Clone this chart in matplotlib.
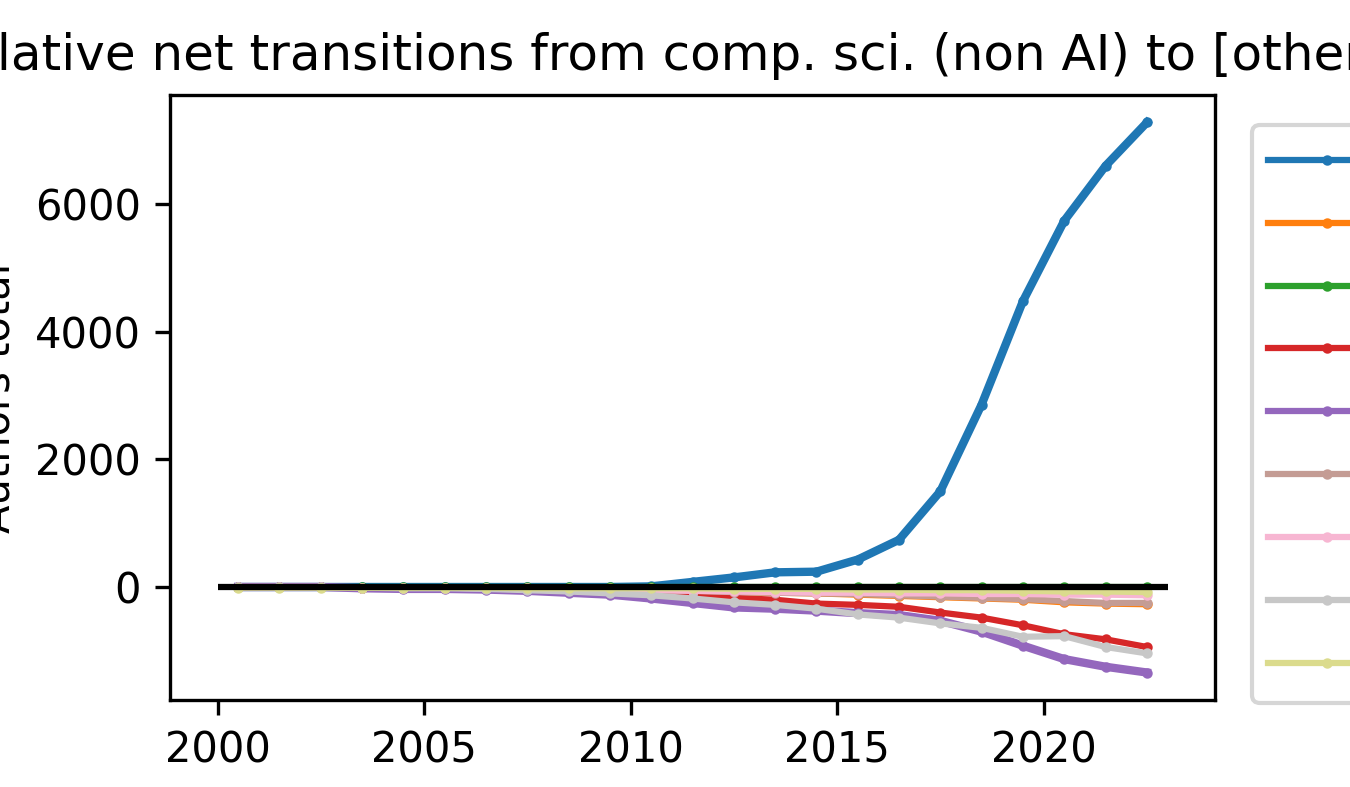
import matplotlib
matplotlib.use("Agg")
import matplotlib.pyplot as plt
import numpy as np

years = np.arange(2000.5, 2023.0, 1.0)

fields = ["AI", "Physics", "Mathematics", "Engineering", "Biology",
          "Economics", "Medicine", "Chemistry", "Other"]
colors = ["#1f77b4", "#ff7f0e", "#2ca02c", "#d62728", "#9467bd",
          "#c49c94", "#f7b6d2", "#c7c7c7", "#dbdb8d"]

ai = [0, 0, 0, 0, 0, 0, 0, 0, 0, 0, 10, 80, 150, 230, 240, 430, 740, 1500, 2860, 4480, 5740, 6600, 7280]
physics = [0, 0, 0, -10, -10, -10, -20, -20, -30, -40, -50, -60, -80, -90, -100, -120, -140, -160, -180, -200, -240, -260, -270]
maths = [0, 0, 0, 0, 0, 0, 0, 0, 0, 0, 0, 0, 0, 0, 0, 0, 0, 0, 0, 0, 0, 0, 0]
engineering = [0, 0, 0, -10, -20, -20, -30, -50, -70, -90, -110, -130, -170, -200, -260, -280, -310, -400, -480, -600, -740, -820, -940]
biology = [0, 0, 0, -20, -30, -30, -40, -60, -90, -120, -180, -250, -320, -340, -370, -410, -440, -530, -700, -920, -1130, -1250, -1340]
economics = [0, 0, 0, -10, -10, -10, -20, -20, -30, -40, -50, -60, -80, -90, -100, -110, -130, -150, -170, -190, -220, -250, -250]
medicine = [0, 0, 0, -10, -10, -10, -20, -20, -30, -40, -50, -60, -70, -80, -90, -90, -100, -100, -110, -110, -120, -120, -130]
chemistry = [0, 0, 0, -10, -20, -20, -30, -50, -70, -100, -130, -180, -240, -280, -340, -430, -480, -570, -640, -780, -770, -940, -1040]
other = [-10, -10, -10, -10, -10, -10, -10, -20, -20, -20, -20, -20, -30, -30, -30, -40, -40, -50, -50, -60, -70, -70, -80]

series = [ai, physics, maths, engineering, biology, economics, medicine, chemistry, other]

fig = plt.figure(figsize=(4.5, 787 / 300), dpi=300)
ax = fig.add_axes([170 / 1350, 1 - 700 / 787, 1045 / 1350, 605 / 787])

for name, vals, c in zip(fields, series, colors):
    lw = 2.0 if name in ("AI", "Biology") else 1.5
    ax.plot(years, vals, color=c, marker="o", markersize=1.5, linewidth=lw, label=name)
ax.hlines(0, 2000, 2023, color="black", linewidth=1.5)

ax.set_xticks([2000, 2005, 2010, 2015, 2020])
ax.set_yticks([0, 2000, 4000, 6000])
ax.tick_params(labelsize=10)
ax.set_ylabel("Authors total", fontsize=10)
ax.set_title("Cumulative net transitions from comp. sci. (non AI) to [other fields]", fontsize=12)
leg = ax.legend(loc="upper left", bbox_to_anchor=(1.015, 0.985), fontsize=10,
                labelspacing=0.5, handlelength=2.8)
for h in leg.get_lines():
    h.set_linewidth(1.5)

fig.savefig("out.png", dpi=300)
